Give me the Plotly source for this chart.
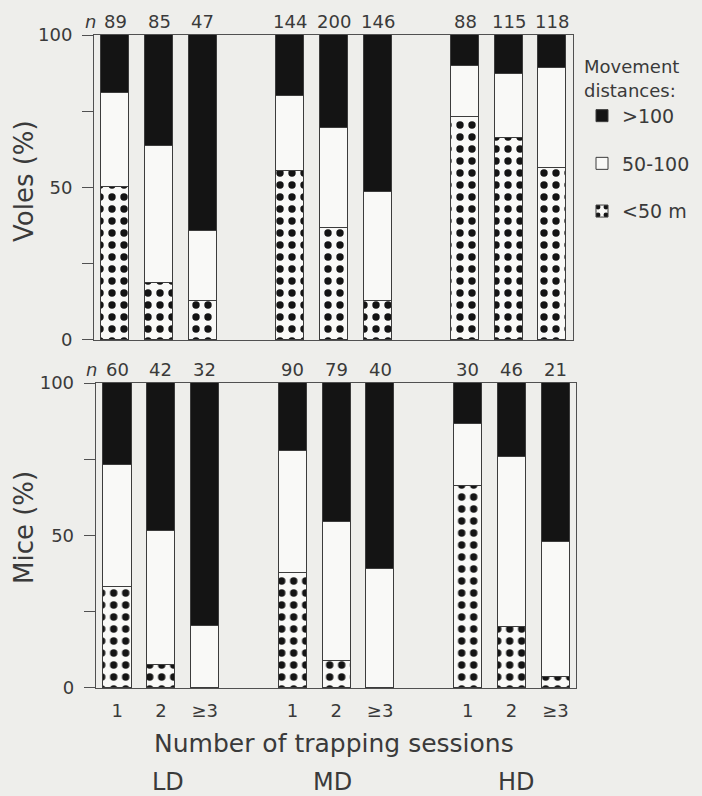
import plotly.graph_objects as go
from plotly.subplots import make_subplots

# ---- data ----
groups = ["LD", "MD", "HD"]
sessions = ["1", "2", "≥3"]
legend_names = ["<50 m", "50-100", ">100"]

voles_n = [89, 85, 47, 144, 200, 146, 88, 115, 118]
voles_lt50 = [50.0, 18.6, 12.8, 55.4, 36.6, 12.8, 73.0, 66.3, 56.5]
voles_50_100 = [31.1, 45.1, 23.0, 24.7, 33.0, 35.8, 16.8, 20.8, 32.6]
voles_gt100 = [18.9, 36.3, 64.2, 19.9, 30.4, 51.4, 10.2, 12.9, 10.9]

mice_n = [60, 42, 32, 90, 79, 40, 30, 46, 21]
mice_lt50 = [33.0, 7.5, 0.0, 37.6, 9.0, 0.0, 66.3, 20.1, 3.5]
mice_50_100 = [40.1, 44.1, 20.3, 40.1, 45.3, 39.0, 20.1, 55.5, 44.5]
mice_gt100 = [26.9, 48.4, 79.7, 22.3, 45.7, 61.0, 13.6, 24.4, 52.0]

# ---- styling ----
BG = "#eeeeeb"
WHITE = "#f9f9f7"
INK = "#141414"
TXT = "#3a3a3a"
FONT = "DejaVu Sans"

xpos = [g * 4 + s for g in range(len(groups)) for s in range(len(sessions))]
xlabels = [s for g in groups for s in sessions]

fig = make_subplots(rows=2, cols=1, vertical_spacing=0.0659)

def add_panel(row, lt50, mid, gt100, show):
    styles = [
        dict(color=WHITE, pattern=dict(shape=".", fgcolor=INK, bgcolor=WHITE,
                                        size=12, solidity=0.3, fillmode="replace")),
        dict(color=WHITE),
        dict(color=INK),
    ]
    for rank, name, vals, st in zip([3, 2, 1], legend_names, [lt50, mid, gt100], styles):
        fig.add_trace(go.Bar(
            x=xpos, y=vals, name=name, width=0.64,
            marker=dict(line=dict(color="#3c3c3c", width=1), **st),
            showlegend=show, legendgroup=name, legendrank=rank,
        ), row=row, col=1)

add_panel(1, voles_lt50, voles_50_100, voles_gt100, True)
add_panel(2, mice_lt50, mice_50_100, mice_gt100, False)

fig.update_layout(
    barmode="stack",
    width=702, height=796,
    margin=dict(l=94, r=126, t=35, b=108, autoexpand=False),
    paper_bgcolor=BG, plot_bgcolor=BG,
    font=dict(family=FONT, size=18, color=TXT),
    bargap=0,
    legend=dict(
        xref="container", yref="container",
        x=582 / 702, y=1 - 50 / 796, xanchor="left", yanchor="top",
        traceorder="grouped", tracegroupgap=20,
        title=dict(text="Movement<br>distances:", font=dict(size=18, color=TXT)),
        font=dict(size=19, color=TXT), bgcolor="rgba(0,0,0,0)",
        itemwidth=30,
    ),
)

axis_common = dict(range=[-0.49, 10.47], showgrid=False, zeroline=False,
                   showline=True, linecolor="#505050", linewidth=1, mirror=True)
fig.update_xaxes(**axis_common, domain=[0, 0.9938], showticklabels=False, ticks="", row=1, col=1)
fig.update_xaxes(**axis_common, domain=[0.0035, 1.0], tickvals=xpos, ticktext=xlabels,
                 ticks="", ticklabelstandoff=6, tickfont=dict(size=18, color=TXT), row=2, col=1)
fig.update_yaxes(range=[0, 100], showgrid=False, zeroline=False, showline=True,
                 linecolor="#505050", linewidth=1, mirror=True,
                 tickvals=[0, 25, 50, 75, 100], ticktext=["0", "", "50", "", "100"],
                 ticks="outside", ticklen=11, tickcolor="#505050", ticklabelstandoff=6,
                 tickfont=dict(size=18, color=TXT))

ann = []
for axn, ns in [("", voles_n), ("2", mice_n)]:
    for x, n in zip(xpos, ns):
        ann.append(dict(x=x, y=1, xref="x" + axn, yref=f"y{axn} domain", text=str(n),
                        showarrow=False, yanchor="bottom", yshift=1,
                        font=dict(size=18, color=TXT)))
    ann.append(dict(x=-0.024, y=1, xref=f"x{axn} domain", yref=f"y{axn} domain",
                    text="<i>n</i>", showarrow=False, yanchor="bottom", yshift=1,
                    font=dict(size=18, color=TXT)))

pix_ann = [
    dict(x=24, y=181, text="Voles (%)", textangle=-90, font=dict(size=26, color=TXT)),
    dict(x=24, y=528, text="Mice (%)", textangle=-90, font=dict(size=26, color=TXT)),
    dict(x=334, y=743, text="Number of trapping sessions", font=dict(size=25, color=TXT)),
]
for g, cx in zip(groups, [168, 332, 516]):
    pix_ann.append(dict(x=cx, y=782, text=g, font=dict(size=24, color=TXT)))

# convert pixel positions for paper annotations
W, H = 702, 796
L, R, T, B = 94, 126, 35, 108
pw, ph = W - L - R, H - T - B
for a in pix_ann:
    a.update(xref="paper", yref="paper", showarrow=False,
             xanchor="center", yanchor="middle",
             x=(a["x"] - L) / pw, y=1 - (a["y"] - T) / ph)
    ann.append(a)

fig.update_layout(annotations=ann)
fig.write_html("out.html")
